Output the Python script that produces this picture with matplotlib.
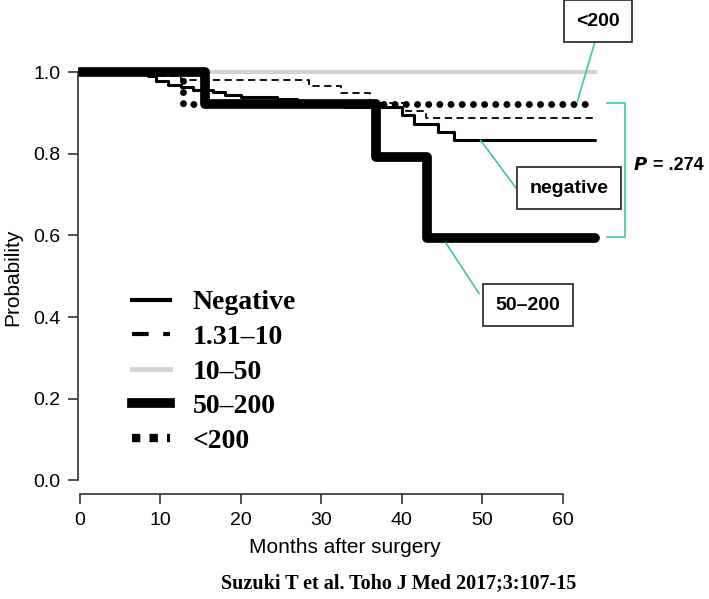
import matplotlib.pyplot as plt
from matplotlib.lines import Line2D

# Kaplan-Meier step data (time in months, survival after step)
neg_t = [0, 8.5, 9.5, 11, 12.5, 14, 16.5, 18, 20, 24.5, 27, 30.5, 33, 40, 41.5, 44.5, 46.5, 64]
neg_s = [1.0, 0.99, 0.979, 0.969, 0.963, 0.957, 0.951, 0.945, 0.939, 0.933, 0.927, 0.921, 0.914,
         0.894, 0.874, 0.853, 0.833, 0.833]

low_t = [0, 8.5, 12.5, 28.5, 32.5, 36, 40.5, 43, 64]
low_s = [1.0, 0.99, 0.98, 0.965, 0.95, 0.925, 0.905, 0.887, 0.887]

mid_t = [0, 64]
mid_s = [1.0, 1.0]

high_t = [0, 15.5, 36.8, 43.2, 64]
high_s = [1.0, 0.923, 0.791, 0.593, 0.593]

top_t = [0, 12.8, 63.5]
top_s = [1.0, 0.923, 0.923]

labels = ["Negative", "1.31\u201310", "10\u201350", "50\u2013200", "<200"]

teal = "#3cc8a4"
sans = "Liberation Sans"
serif = "Liberation Serif"

fig = plt.figure(figsize=(7.09, 5.99), dpi=100)
ax = fig.add_axes([0.1106, 0.175, 0.751, 0.725])

ax.step(mid_t, mid_s, where="post", color="#d3d3d3", lw=3)
ax.step(low_t, low_s, where="post", color="black", lw=1.3, dashes=(4, 2.5))
ax.step(neg_t, neg_s, where="post", color="black", lw=2.2, solid_capstyle="round")
ax.step(high_t, high_s, where="post", color="black", lw=7, solid_capstyle="round",
        solid_joinstyle="round")
ax.step(top_t, top_s, where="post", color="black", lw=5, linestyle=(0, (0.01, 1.6)),
        dash_capstyle="round")

ax.set_xlim(-0.2, 66)
ax.set_ylim(-0.034, 1.03)
for s in ["top", "right"]:
    ax.spines[s].set_visible(False)
ax.spines["left"].set_bounds(0, 1)
ax.spines["bottom"].set_bounds(0, 60)
for s in ["left", "bottom"]:
    ax.spines[s].set_color("#333333")
    ax.spines[s].set_linewidth(1.2)
ax.set_xticks(range(0, 61, 10))
ax.set_yticks([0.0, 0.2, 0.4, 0.6, 0.8, 1.0])
ax.set_yticklabels(["0.0", "0.2", "0.4", "0.6", "0.8", "1.0"])
ax.tick_params(direction="out", length=7, width=1.2, color="#333333",
               labelsize=14, pad=6)
for lab in ax.get_xticklabels() + ax.get_yticklabels():
    lab.set_fontfamily(sans)
ax.set_xlabel("Months after surgery", fontsize=15, fontfamily=sans, labelpad=6)
ax.set_ylabel("Probability", fontsize=15, fontfamily=sans, labelpad=8)

# legend
handles = [
    Line2D([], [], color="black", lw=3),
    Line2D([], [], color="black", lw=3, dashes=(4, 3.5)),
    Line2D([], [], color="#d3d3d3", lw=3.5),
    Line2D([], [], color="black", lw=7),
    Line2D([], [], color="black", lw=6, dashes=(1, 1.1)),
]
ax.legend(handles, labels, loc="upper left", bbox_to_anchor=(0.054, 0.528),
          frameon=False, handlelength=1.37, handletextpad=0.8, labelspacing=0.33,
          prop={"family": serif, "weight": "bold", "size": 20})

# annotations
box = dict(boxstyle="square,pad=0.65", fc="white", ec="#333333", lw=1.3)
ax.plot([64.4, 61.8], [1.10, 0.926], color=teal, lw=1.2, clip_on=False)
ax.text(64.4, 1.125, "<200", ha="center", va="center", fontsize=14, fontweight="bold",
        fontfamily=sans, bbox=box, clip_on=False)
ax.plot([49.8, 54.6], [0.833, 0.706], color=teal, lw=1.2, clip_on=False)
ax.text(60.8, 0.716, "negative", ha="center", va="center", fontsize=14, fontweight="bold",
        fontfamily=sans, bbox=box, clip_on=False)
ax.plot([45.5, 49.6], [0.581, 0.458], color=teal, lw=1.2, clip_on=False)
ax.text(55.7, 0.429, "50\u2013200", ha="center", va="center", fontsize=14, fontweight="bold",
        fontfamily=sans, bbox=box, clip_on=False)
ax.plot([65.5, 67.8, 67.8, 65.5], [0.924, 0.924, 0.596, 0.596], color=teal, lw=1.2,
        clip_on=False)
ax.text(68.8, 0.772, "$\\bfit{P}$", ha="left", va="center", fontsize=13, clip_on=False)
ax.text(70.6, 0.772, " = .274", ha="left", va="center", fontsize=13, fontweight="bold",
        fontfamily=sans, clip_on=False)

fig.text(0.563, 0.027, "Suzuki T et al. Toho J Med 2017;3:107-15", ha="center", va="center",
         fontsize=14.5, fontweight="bold", fontfamily=serif)

fig.savefig("out.png", dpi=100)
